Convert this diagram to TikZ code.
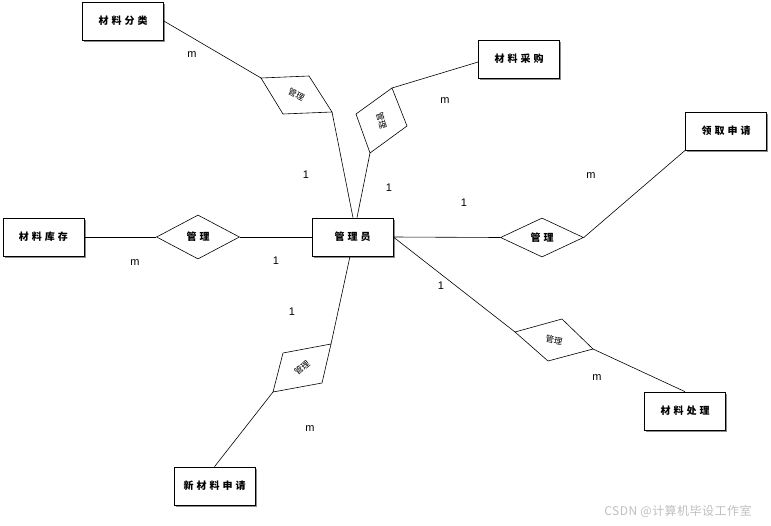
\documentclass[tikz,border=0pt]{standalone}
\usepackage{fontspec}
\setmainfont{Liberation Sans}
\newfontfamily\cjk[LetterSpace=30]{Noto Sans CJK SC}
\newfontfamily\cjkl{Noto Sans CJK SC}
\usetikzlibrary{shapes.geometric,shadows}
\begin{document}
\begin{tikzpicture}[x=1pt,y=-1pt,
  ent/.style={draw, line width=0.7pt, minimum width=81pt, minimum height=38pt, inner sep=0pt, fill=white,
    drop shadow={shadow xshift=1.5pt, shadow yshift=-1.5pt, fill=black!45, opacity=1},
    font=\cjk\bfseries\fontsize{10}{12}\selectfont},
  rel/.style={draw, diamond, line width=0.6pt, minimum width=83pt, minimum height=42pt, inner sep=0pt,
    font=\cjk\bfseries\fontsize{10}{12}\selectfont},
  rtext/.style={font=\cjkl\fontsize{8.5}{10}\selectfont, inner sep=0pt},
  lbl/.style={font=\fontsize{11}{13}\selectfont, inner sep=0pt},
  conn/.style={line width=0.6pt}]
\useasboundingbox (0,0) rectangle (771,525);

% entities
\node[ent] (fl)  at (123,21)  {材料分类};
\node[ent] (cg)  at (519,59)  {材料采购};
\node[ent] (lq)  at (726,131) {领取申请};
\node[ent] (kc)  at (43.5,237) {材料库存};
\node[ent] (gly) at (352.5,237) {管理员};
\node[ent] (cl)  at (685,411) {材料处理};
\node[ent] (xsq) at (214.5,486) {新材料申请};

% horizontal relations
\node[rel, minimum height=44pt] (d3) at (198,237) {管理};
\node[rel, minimum height=39pt] (d4) at (542,237.5) {管理};

% rotated relations (vertices)
\coordinate (d1l) at (261,78);  \coordinate (d1t) at (309,76);
\coordinate (d1r) at (332,112); \coordinate (d1b) at (283,114);
\coordinate (d2l) at (356,114); \coordinate (d2t) at (392,88);
\coordinate (d2r) at (407,126); \coordinate (d2b) at (370,153);
\coordinate (d5l) at (515,332); \coordinate (d5t) at (562,319);
\coordinate (d5r) at (593,349); \coordinate (d5b) at (548,361);
\coordinate (d6l) at (283,353); \coordinate (d6t) at (331,344);
\coordinate (d6r) at (322,383); \coordinate (d6b) at (273,392);

\draw[conn] (d1l) -- (d1t) -- (d1r) -- (d1b) -- cycle;
\draw[conn] (d2l) -- (d2t) -- (d2r) -- (d2b) -- cycle;
\draw[conn] (d5l) -- (d5t) -- (d5r) -- (d5b) -- cycle;
\draw[conn] (d6l) -- (d6t) -- (d6r) -- (d6b) -- cycle;

\node[rtext, rotate=-28] (t1) at (296.5,95) {管理};
\node[rtext, rotate=-75] (t2) at (381.5,120.5) {管理};
\node[rtext, rotate=-12] (t5) at (554,340) {管理};
\node[rtext, rotate=40] (t6) at (302,368) {管理};

% connectors
\coordinate (glyt1) at ([xshift=0.5pt]gly.north);
\coordinate (glyt2) at ([xshift=4.5pt]gly.north);
\coordinate (glyb) at ([xshift=-2.5pt]gly.south);
\draw[conn] (fl.east) -- (d1l);
\draw[conn] (d1r) -- (glyt1);
\draw[conn] ([yshift=-3pt]cg.west) -- (d2t);
\draw[conn] (d2b) -- (glyt2);
\draw[conn] (kc.east) -- (d3.west);
\draw[conn] (d3.east) -- (gly.west);
\draw[conn] (gly.east) -- (d4.west);
\draw[conn] (d4.east) -- (lq.south west);
\draw[conn] (gly.east) -- (d5l);
\draw[conn] (d5r) -- (cl.north);
\draw[conn] (glyb) -- (d6t);
\draw[conn] (d6b) -- (xsq.north);

% cardinality labels
\node[lbl] (m1) at (192,55) {m};
\node[lbl] (o1) at (306,175) {1};
\node[lbl] (m2) at (445,101) {m};
\node[lbl] (o2) at (389,188) {1};
\node[lbl] (m3) at (591,176) {m};
\node[lbl] (o3) at (464,203) {1};
\node[lbl] (m4) at (135,263) {m};
\node[lbl] (o4) at (276,261) {1};
\node[lbl] (o5) at (292,312) {1};
\node[lbl] (o6) at (441,286) {1};
\node[lbl] (m5) at (597,378) {m};
\node[lbl] (m6) at (310,429) {m};

% watermark
\node[font=\cjkl\addfontfeature{LetterSpace=4}\fontsize{12}{14}\selectfont, text=black!25, inner sep=0pt] (wm) at (678,511) {CSDN @计算机毕设工作室};
\end{tikzpicture}
\end{document}
